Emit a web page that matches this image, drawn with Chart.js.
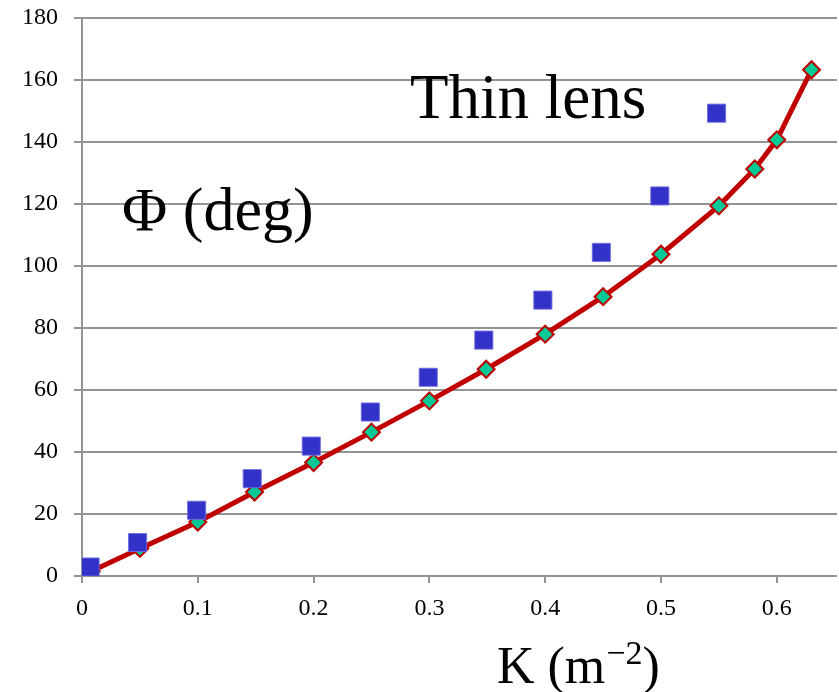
<!DOCTYPE html>
<html>
<head>
<meta charset="utf-8">
<script src="https://cdn.jsdelivr.net/npm/chart.js@4"></script>
<style>
  html, body { margin: 0; padding: 0; background: #fff; overflow: hidden; }
  #wrap { width: 839px; height: 692px; }
  canvas { display: block; }
</style>
</head>
<body>
<div id="wrap"><canvas id="phiChart"></canvas></div>
<script>
// K values and phase (deg) for the full model (red line, diamonds)
const kModel = [0.008, 0.05, 0.1, 0.149, 0.2, 0.25, 0.3, 0.349, 0.4, 0.45, 0.5, 0.55, 0.581, 0.6, 0.63];
const phiModel = [1.5, 8.9, 17.4, 27.1, 36.6, 46.4, 56.5, 66.7, 78.0, 90.1, 103.8, 119.4, 131.3, 140.7, 163.3];

// thin lens approximation (blue squares)
const kThin = [0.007, 0.048, 0.099, 0.147, 0.198, 0.249, 0.299, 0.347, 0.398, 0.4485, 0.499, 0.548];
const phiThin = [2.9, 10.8, 21.2, 31.4, 41.9, 52.9, 64.1, 76.1, 89.0, 104.4, 122.6, 149.3];

// tick labels
const xTicks = [0, 0.1, 0.2, 0.3, 0.4, 0.5, 0.6];
const yTicks = [0, 20, 40, 60, 80, 100, 120, 140, 160, 180];

const gridColor = '#949494';
const serif = "'Liberation Serif', 'Times New Roman', serif";

function toPoints(xs, ys) {
  return xs.map((x, i) => ({ x: x, y: ys[i] }));
}

// let the plot run almost to the right edge of the canvas
const stretchPlugin = {
  id: 'stretch',
  afterLayout(chart) {
    const xs = chart.scales.x;
    const right = chart.width - 2;
    chart.chartArea.right = right;
    chart.chartArea.width = right - chart.chartArea.left;
    xs.right = right;
    xs.width = right - xs.left;
    xs.configure();
  }
};

// Free text labels drawn on the plot, plus x tick labels
const labelPlugin = {
  id: 'labels',
  beforeDatasetsDraw(chart) {
    const ctx = chart.ctx;
    const xScale = chart.scales.x;
    ctx.save();
    ctx.fillStyle = '#000';
    ctx.textBaseline = 'alphabetic';

    ctx.textAlign = 'center';
    ctx.font = '24px ' + serif;
    xTicks.forEach(v => {
      ctx.fillText(String(v), xScale.getPixelForValue(v), chart.chartArea.bottom + 39);
    });

    ctx.textAlign = 'left';
    ctx.font = '63px ' + serif;
    ctx.fillText('Thin lens', 410, 118);

    ctx.font = '62px ' + serif;
    ctx.fillText('\u03A6 (deg)', 122, 230);

    // x axis title with superscript
    let x = 497;
    const base = 683;
    ctx.font = '52px ' + serif;
    ctx.fillText('K (m', x, base);
    x += ctx.measureText('K (m').width;
    ctx.font = '34px ' + serif;
    ctx.fillText('\u22122', x + 1, base - 19);
    x += ctx.measureText('\u22122').width + 1;
    ctx.font = '52px ' + serif;
    ctx.fillText(')', x, base);
    ctx.restore();
  }
};

new Chart(document.getElementById('phiChart'), {
  type: 'scatter',
  data: {
    datasets: [
      {
        label: 'Thin lens',
        data: toPoints(kThin, phiThin),
        pointStyle: 'rect',
        pointRadius: 12.8,
        pointHoverRadius: 12.8,
        backgroundColor: '#3232c8',
        borderColor: 'rgba(110,110,225,0.9)',
        borderWidth: 1,
        showLine: false
      },
      {
        label: 'Phi',
        data: toPoints(kModel, phiModel),
        showLine: true,
        borderColor: '#c00000',
        borderWidth: 5,
        tension: 0,
        pointStyle: 'rectRot',
        pointRadius: 8.5,
        pointHoverRadius: 8.5,
        pointBackgroundColor: '#00c896',
        pointBorderColor: '#c00000',
        pointBorderWidth: 2
      }
    ]
  },
  options: {
    responsive: true,
    maintainAspectRatio: false,
    animation: false,
    layout: {
      padding: { top: 18, right: 0, bottom: 0, left: 0 }
    },
    scales: {
      x: {
        type: 'linear',
        min: 0,
        max: 0.652,
        afterBuildTicks: (scale) => {
          scale.ticks = xTicks.map(v => ({ value: v }));
        },
        afterFit: (scale) => {
          scale.height = 116;
          scale.paddingLeft = 0;
          scale.paddingRight = 0;
        },
        grid: {
          drawOnChartArea: false,
          drawTicks: true,
          tickLength: 7,
          color: gridColor,
          lineWidth: 2
        },
        border: { display: false },
        ticks: { display: false }
      },
      y: {
        type: 'linear',
        min: 0,
        max: 180,
        afterBuildTicks: (scale) => {
          scale.ticks = yTicks.map(v => ({ value: v }));
        },
        afterFit: (scale) => {
          scale.width = 82;
          scale.paddingTop = 0;
          scale.paddingBottom = 0;
        },
        grid: {
          color: gridColor,
          lineWidth: 2,
          drawTicks: true,
          tickLength: 8
        },
        border: { display: true, color: gridColor, width: 2 },
        ticks: {
          color: '#000',
          padding: 16,
          font: { family: serif, size: 24 }
        }
      }
    },
    plugins: {
      legend: { display: false },
      tooltip: { enabled: false }
    }
  },
  plugins: [stretchPlugin, labelPlugin]
});
</script>
</body>
</html>
